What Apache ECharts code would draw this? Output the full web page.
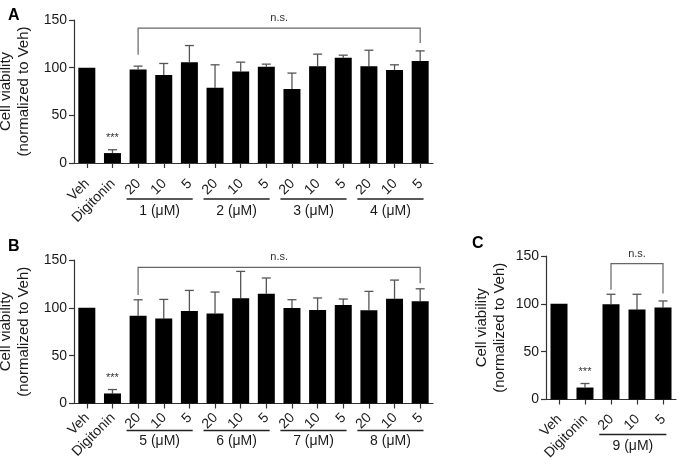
<!DOCTYPE html>
<html>
<head>
<meta charset="utf-8">
<script src="https://cdn.jsdelivr.net/npm/echarts@6/dist/echarts.min.js"></script>
<style>html,body{margin:0;padding:0;background:#fff;}#c{width:680px;height:468px;}</style>
</head>
<body>
<div id="c"></div>
<script>
// ---------- data ----------
const categoriesAB = ['Veh','Digitonin','20','10','5','20','10','5','20','10','5','20','10','5'];
const categoriesC = ['Veh','Digitonin','20','10','5'];

const valuesA = [100, 10.4, 98.2, 92.2, 105.8, 79.0, 96.1, 100.9, 77.6, 101.6, 110.3, 101.6, 97.5, 106.9];
const errorA  = [0, 3.5, 3.4, 12.2, 17.4, 24.0, 9.7, 2.8, 16.7, 12.6, 2.8, 16.7, 5.5, 10.7];
const groupsA = ['1 (μM)', '2 (μM)', '3 (μM)', '4 (μM)'];

const valuesB = [100, 10.5, 91.7, 88.9, 96.6, 94.2, 109.9, 114.8, 99.8, 97.7, 103.0, 97.4, 109.5, 107.0];
const errorB  = [0, 4.1, 16.7, 19.9, 21.6, 22.3, 28.2, 16.4, 8.7, 12.6, 6.2, 19.8, 19.5, 12.9];
const groupsB = ['5 (μM)', '6 (μM)', '7 (μM)', '8 (μM)'];

const valuesC = [100, 12.5, 99.5, 94.0, 96.1];
const errorC  = [0, 4.2, 10.5, 16.0, 6.9];
const groupsC = ['9 (μM)'];

// bracket: [from index, to index, bar value, left drop value, right drop value]
const bracketA = [2, 13, 141.4, 113.5, 126.0];
const bracketB = [2, 13, 142.3, 113.3, 125.6];
const bracketC = [2, 4, 142.0, 114.8, 110.7];
const sigLabel = '***';
const nsLabel = 'n.s.';

// ---------- build ----------
const FONT = '"Liberation Sans", Arial, Helvetica, sans-serif';
const TXT = '#1a1a1a';
const AX = '#333';
const ERR = '#555';

const option = {
  animation: false,
  backgroundColor: '#fff',
  textStyle: { fontFamily: FONT },
  title: [
    { text: 'A', left: 3, top: 3, textStyle: { fontSize: 16, fontWeight: 'bold', color: '#000', fontFamily: FONT } },
    { text: 'B', left: 3, top: 234, textStyle: { fontSize: 16, fontWeight: 'bold', color: '#000', fontFamily: FONT } },
    { text: 'C', left: 467, top: 231, textStyle: { fontSize: 16, fontWeight: 'bold', color: '#000', fontFamily: FONT } }
  ],
  grid: [], xAxis: [], yAxis: [], series: []
};

function addPanel(k, cats, vals, errs, groups, bracket, L) {
  option.grid.push({ left: L.left, top: L.top, width: L.width, height: L.height, containLabel: false, outerBoundsMode: 'none' });
  option.xAxis.push({
    gridIndex: k, type: 'category', data: cats, boundaryGap: true,
    axisLine: { show: true, onZero: false, lineStyle: { color: AX, width: 1.2 } },
    axisTick: { show: true, alignWithLabel: true, interval: 0, length: 5, lineStyle: { color: AX, width: 1.2 } },
    axisLabel: { show: false },
    splitLine: { show: false }
  });
  option.yAxis.push({
    gridIndex: k, type: 'value', min: 0, max: 150, interval: 50,
    name: 'Cell viability\n(normalized to Veh)', nameLocation: 'middle', nameGap: L.nameGap,
    nameTextStyle: { fontSize: 15, lineHeight: 18, color: TXT, fontFamily: FONT },
    axisLine: { show: true, onZero: false, lineStyle: { color: AX, width: 1.2 } },
    axisTick: { show: true, length: 5, lineStyle: { color: AX, width: 1.2 } },
    axisLabel: { fontSize: 14, color: TXT, margin: 7, fontFamily: FONT },
    splitLine: { show: false }
  });
  // bars
  option.series.push({
    type: 'bar', xAxisIndex: k, yAxisIndex: k, barWidth: L.barWidth,
    itemStyle: { color: '#000' },
    data: vals
  });
  // rotated category labels (45°), anchored at each tick
  option.series.push({
    type: 'custom', xAxisIndex: k, yAxisIndex: k, clip: false, silent: true,
    data: cats.map((c, i) => [i, 0]),
    renderItem: function (params, api) {
      const i = api.value(0);
      const p = api.coord([i, 0]);
      return { type: 'text', x: p[0] + 0.5, y: p[1] + L.labelOffset, rotation: Math.PI / 4,
        style: { text: cats[i], x: 0, y: 0, align: 'right', verticalAlign: 'middle',
          fontSize: 14, fill: TXT, fontFamily: FONT } };
    }
  });
  // error bars
  option.series.push({
    type: 'custom', xAxisIndex: k, yAxisIndex: k, clip: false,
    data: vals.map((v, i) => [i, v, errs[i]]).filter(d => d[2] > 0),
    renderItem: function (params, api) {
      const x = api.value(0), v = api.value(1), e = api.value(2);
      const p0 = api.coord([x, v]), p1 = api.coord([x, v + e]);
      const st = { stroke: ERR, lineWidth: 1.3 };
      return { type: 'group', children: [
        { type: 'line', shape: { x1: p0[0], y1: p0[1], x2: p1[0], y2: p1[1] }, style: st },
        { type: 'line', shape: { x1: p1[0] - 4.5, y1: p1[1], x2: p1[0] + 4.5, y2: p1[1] }, style: st }
      ] };
    }
  });
  // significance *** over Digitonin
  option.series.push({
    type: 'custom', xAxisIndex: k, yAxisIndex: k, clip: false,
    data: [[1, vals[1] + errs[1]]],
    renderItem: function (params, api) {
      const p = api.coord([api.value(0), api.value(1)]);
      return { type: 'text', style: { text: sigLabel, x: p[0], y: p[1] - 12, align: 'center', verticalAlign: 'middle',
        fontSize: 11, fill: '#333', fontFamily: FONT } };
    }
  });
  // bracket with n.s.
  option.series.push({
    type: 'custom', xAxisIndex: k, yAxisIndex: k, clip: false,
    data: [bracket],
    renderItem: function (params, api) {
      const a = api.value(0), b = api.value(1), y = api.value(2), yl = api.value(3), yr = api.value(4);
      const pa = api.coord([a, y]), pb = api.coord([b, y]);
      const pl = api.coord([a, yl]), pr = api.coord([b, yr]);
      const st = { stroke: '#666', lineWidth: 1.2, fill: null };
      return { type: 'group', children: [
        { type: 'polyline', shape: { points: [pl, pa, pb, pr] }, style: st },
        { type: 'text', style: { text: nsLabel, x: (pa[0] + pb[0]) / 2, y: pa[1] - 10, align: 'center', verticalAlign: 'middle',
          fontSize: 11, fill: '#333', fontFamily: FONT } }
      ] };
    }
  });
  // group underlines and labels
  option.series.push({
    type: 'custom', xAxisIndex: k, yAxisIndex: k, clip: false,
    data: groups.map((g, j) => [2 + 3 * j, 4 + 3 * j, j]),
    renderItem: function (params, api) {
      const s = api.value(0), e = api.value(1), j = api.value(2);
      const band = api.size([1, 0])[0];
      const ps = api.coord([s, 0]), pe = api.coord([e, 0]);
      const x0 = ps[0] - 0.45 * band, x1 = pe[0] + 0.13 * band;
      const yl = ps[1] + L.lineOffset;
      return { type: 'group', children: [
        { type: 'line', shape: { x1: x0, y1: yl, x2: x1, y2: yl }, style: { stroke: '#222', lineWidth: 1.3 } },
        { type: 'text', style: { text: groups[j], x: (x0 + x1) / 2, y: ps[1] + L.groupLabelOffset,
          align: 'center', verticalAlign: 'middle', fontSize: 14, fill: TXT, fontFamily: FONT } }
      ] };
    }
  });
}

addPanel(0, categoriesAB, valuesA, errorA, groupsA, bracketA,
  { left: 74, top: 20, width: 359, height: 143, labelOffset: 18.5, lineOffset: 36, groupLabelOffset: 48, nameGap: 35, barWidth: 17 });
addPanel(1, categoriesAB, valuesB, errorB, groupsB, bracketB,
  { left: 74, top: 260, width: 359, height: 143.5, labelOffset: 12, lineOffset: 27, groupLabelOffset: 38, nameGap: 35, barWidth: 17 });
addPanel(2, categoriesC, valuesC, errorC, groupsC, bracketC,
  { left: 546, top: 256, width: 130, height: 143.5, labelOffset: 17.5, lineOffset: 35, groupLabelOffset: 47, nameGap: 37, barWidth: 17 });

const chart = echarts.init(document.getElementById('c'), null, { renderer: 'canvas' });
chart.setOption(option);
</script>
</body>
</html>
